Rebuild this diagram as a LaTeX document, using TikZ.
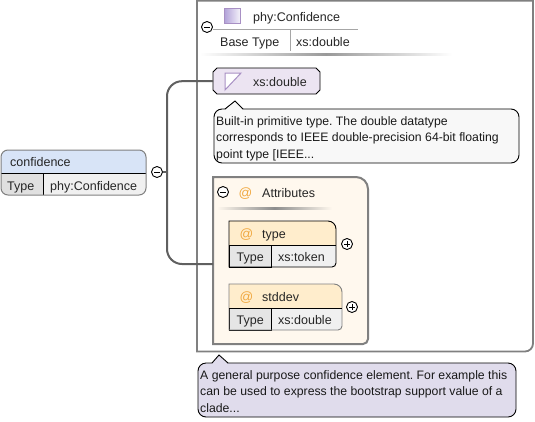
\documentclass[tikz,border=0pt]{standalone}
\usepackage{fontspec}
\setmainfont{Liberation Sans}
\usepackage{xcolor}
\usetikzlibrary{positioning, calc}
\definecolor{framegray}{HTML}{808080}
\definecolor{linkgray}{HTML}{606060}
\definecolor{attrorange}{HTML}{F0A840}
\definecolor{attrhead}{HTML}{FFEDCC}
\definecolor{attrback}{HTML}{FFF8EE}
\definecolor{rootblue}{HTML}{D8E4F7}
\definecolor{notelilac}{HTML}{E0DCEC}
\definecolor{notegray}{HTML}{F8F8F8}
\definecolor{typelilac}{HTML}{ECE4F2}
\definecolor{iconlilac}{HTML}{B0A0D8}
\definecolor{iconedge}{HTML}{A890C4}

\begin{document}
\frenchspacing
\begin{tikzpicture}[
    x=1pt, y=-1pt,
    textlabel/.style={anchor=base west, inner sep=0pt, font=\fontsize{12.5}{14}\selectfont, text=black!85},
    notetext/.style={anchor=north west, inner sep=0pt, align=left, font=\fontsize{12.25}{16.3}\selectfont, text=black!90},
    btn/.style={circle, draw=black, line width=0.9pt, fill=white, minimum size=11pt, inner sep=0pt},
    minusbtn/.style={btn, path picture={\draw[line width=0.9pt] ($(path picture bounding box.west)+(2.5pt,0)$) -- ($(path picture bounding box.east)+(-2.5pt,0)$);}},
    plusbtn/.style={btn, path picture={\draw[line width=0.9pt] ($(path picture bounding box.west)+(2.5pt,0)$) -- ($(path picture bounding box.east)+(-2.5pt,0)$); \draw[line width=0.9pt] ($(path picture bounding box.north)+(0,-2.5pt)$) -- ($(path picture bounding box.south)+(0,2.5pt)$);}},
    atsign/.style={anchor=base west, inner sep=0pt, font=\fontsize{13.5}{14}\selectfont, text=attrorange},
    typecell/.style={anchor=north west, rectangle, draw=black, fill=black!10, minimum width=42pt, minimum height=22pt, inner sep=0pt, text height=11pt, text depth=0pt, font=\fontsize{12.5}{14}\selectfont, text=black!85},
    notebox/.style={draw=black, line width=0.9pt, rounded corners=8},
    link/.style={draw=linkgray, line width=2pt}
]
    \useasboundingbox[fill=white] (0,0) rectangle (535,421);

    % Frames
    \draw[framegray, line width=1.8pt, fill=white] (197,0.7) -- (197,351.5) [rounded corners=8] -- (533,351.5) [sharp corners] -- (533,0.7) -- cycle;
    \draw[draw=framegray, line width=2pt, fill=attrback] (213,177) [rounded corners=12] -- (368,177) [rounded corners=5] -- (368,344) [sharp corners] -- (213,344) -- cycle;

    % Root element
    \begin{scope}
        \clip[rounded corners=7] (1,150) rectangle (146,195);
        \fill[rootblue] (1,150) rectangle (146,173);
        \fill[black!6] (43,173) rectangle (146,195);
        \fill[black!12] (1,173) rectangle (43,195);
    \end{scope}
    \draw[black] (1,173) -- (146,173) (43,173) -- (43,195);
    \draw[framegray, line width=1pt, rounded corners=7] (1,150) rectangle (146,195);
    \node (confidence) [textlabel] at (10,166) {confidence};
    \node (conftype) [textlabel] at (7,190) {Type};
    \node (confvalue) [textlabel] at (50,190) {phy:Confidence};
    \node (confbtn) [minusbtn] at (157,172) {};

    % Complex type header
    \shade[left color=iconlilac, right color=iconlilac!15, draw=iconedge] (224,8) rectangle (240,23);
    \node (phyname) [textlabel] at (253,21) {phy:Confidence};
    \draw[black!35] (213,29) -- (358,29) (290,29) -- (290,51);
    \node (basetype) [textlabel] at (220,46) {Base Type};
    \node (basevalue) [textlabel] at (296,46) {xs:double};
    \shade[left color=white, right color=white, middle color=black!40] (200,53) rectangle (452,55);
    \node (phybtn) [minusbtn] at (207,27) {};

    % Primitive type
    \draw[black, line width=0.9pt, fill=typelilac] (217,68) -- (316,68) -- (320,72) -- (320,90) -- (316,94) -- (217,94) -- (213,90) -- (213,72) -- cycle;
    \node (xsdouble) [rectangle, minimum width=107pt, minimum height=26pt, inner sep=0pt, anchor=north west] at (213,68) {};
    \draw[iconedge, line width=1pt, fill=white] (225,90) -- (225,73) -- (241,73) -- cycle;
    \node (xsname) [textlabel] at (253,86) {xs:double};

    % Primitive note
    \draw[notebox, fill=notegray] (214,109) rectangle (519,163);
    \fill[notegray] (225,110) -- (235,101) -- (243,110) -- cycle;
    \draw[black, line width=0.9pt] (225,109) -- (235,101) -- (243,109);
    \node (xsnote) [notetext] at (216,116.5) {Built-in primitive type. The double datatype\\corresponds to IEEE double-precision 64-bit floating\\point type [IEEE...};

    % Attributes
    \node (attrbtn) [minusbtn] at (223,192) {};
    \node (attrat) [atsign] at (238.5,197.5) {@};
    \node (attrs) [textlabel] at (262,197) {Attributes};
    \shade[left color=attrback, right color=attrback, middle color=black!45] (217,207) rectangle (332,209);

    % type attribute
    \fill[attrhead] (229,221) [rounded corners=8] -- (336,221) [sharp corners] -- (336,245) -- (229,245) -- cycle;
    \fill[black!6] (271,245) -- (336,245) [rounded corners=4] -- (336,267) [sharp corners] -- (271,267) -- cycle;
    \node (typecell) [typecell] at (229,245) {Type};
    \draw[black, line width=0.9pt] (229,221) [rounded corners=8] -- (336,221) [rounded corners=4] -- (336,267) [sharp corners] -- (229,267) -- cycle;
    \draw[black] (229,245) -- (336,245);
    \node (typeat) [atsign] at (239.5,238.5) {@};
    \node (typename) [textlabel] at (262,238) {type};
    \node (typevalue) [textlabel] at (278,261) {xs:token};
    \node (typebtn) [plusbtn] at (347,244) {};

    % stddev attribute
    \fill[attrhead] (229,284) [rounded corners=8] -- (342,284) [sharp corners] -- (342,308) -- (229,308) -- cycle;
    \fill[black!6] (271,308) -- (342,308) [rounded corners=4] -- (342,330) [sharp corners] -- (271,330) -- cycle;
    \node (stdcell) [typecell] at (229,308) {Type};
    \draw[framegray, line width=0.9pt] (229,284) [rounded corners=8] -- (342,284) [rounded corners=4] -- (342,330) [sharp corners] -- (229,330) -- cycle;
    \draw[black] (229,308) -- (342,308);
    \node (stdat) [atsign] at (239.5,301.5) {@};
    \node (stdname) [textlabel] at (262,301) {stddev};
    \node (stdvalue) [textlabel] at (278,324) {xs:double};
    \node (stdbtn) [plusbtn] at (352,307) {};

    % Element note
    \draw[notebox, fill=notelilac] (198,363) rectangle (516,417);
    \fill[notelilac] (212,364) -- (219,355) -- (228,364) -- cycle;
    \draw[black, line width=0.9pt] (212,363) -- (219,355) -- (228,363);
    \node (confnote) [notetext] at (200,370.5) {A general purpose confidence element. For example this\\can be used to express the bootstrap support value of a\\clade...};

    % Flows
    \coordinate (fork) at (167,172);
    \coordinate (attrin) at (213,264);
    \draw[link] (confbtn) -- (fork);
    \draw[link, rounded corners=15] (xsdouble.west) -| (fork);
    \draw[link, rounded corners=15] (attrin) -| (fork);
\end{tikzpicture}
\end{document}
